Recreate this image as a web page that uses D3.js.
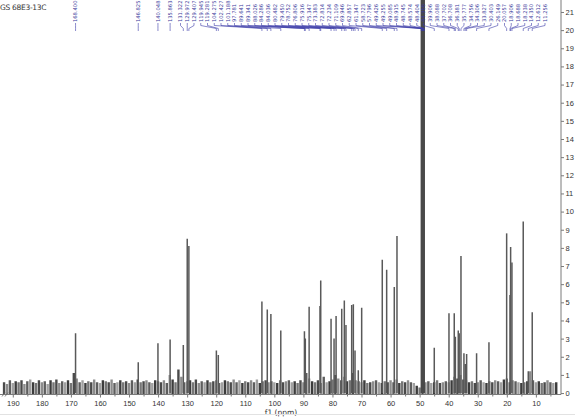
<!DOCTYPE html>
<html>
<head>
<meta charset="utf-8">
<script src="https://cdn.jsdelivr.net/npm/d3@7/dist/d3.min.js"></script>
<style>
    body { margin: 0; background: #fff; }
    svg { display: block; font-family: "DejaVu Sans", sans-serif; }
</style>
</head>
<body>
<div class="Spectrum"></div>
<script>
// peaks picked on the 13C spectrum (ppm / intensity)
const peakPpm = [168.400, 146.825, 140.048, 135.863, 131.322, 129.972, 129.407,
    119.945, 119.281, 104.275, 102.427, 101.188, 97.781,
    89.641, 89.341, 88.026, 84.286, 84.036, 80.482, 79.450, 78.752,
    76.806, 75.916, 75.347, 73.383, 72.814, 72.234, 71.109, 69.946,
    62.857, 61.347, 58.723, 57.796, 44.966,
    39.906, 38.088, 37.702, 36.708, 36.381, 35.777, 34.756, 34.306, 33.827, 30.403, 26.149,
    20.057, 18.906, 18.688, 18.238, 14.350, 12.612, 11.256];
const peakHeight = [3.3, 1.7, 2.75, 2.95, 2.65, 8.5, 8.1,
    2.35, 2.1, 5.05, 4.6, 4.35, 3.45,
    3.4, 3.0, 4.75, 4.8, 6.2, 4.1, 3.0, 4.25,
    4.65, 5.1, 3.75, 4.85, 4.9, 2.35, 1.25, 4.7,
    7.35, 6.8, 5.85, 8.65, 2.5,
    4.4, 4.4, 3.1, 3.45, 3.3, 7.55, 2.2, 1.6, 2.15, 2.2, 2.8,
    8.8, 5.4, 8.05, 7.2, 9.45, 1.2, 4.45];

// CD3OD septet, off scale
const solventPpm = [49.426, 49.255, 49.085, 48.915, 48.745, 48.574, 48.404];
const solventHeight = [26, 40, 60, 70, 60, 40, 26];

// baseline noise, one value per ppm from 193 down to 3
const noiseStart = 193;
const noise = [
    0.6, 0.5, 0.7, 0.55, 0.65, 0.6, 0.7, 0.5, 0.65, 0.75, 0.6, 0.55, 0.7, 0.6, 0.65, 0.5, 0.7, 0.6, 0.75, 0.55,
    0.65, 0.6, 0.7, 0.55, 1.1, 0.8, 0.6, 0.7, 0.55, 0.65, 0.6, 0.75, 0.6, 0.55, 0.7, 0.65, 0.6, 0.75, 0.55, 0.6,
    0.7, 0.6, 0.65, 0.55, 0.7, 0.6, 0.75, 0.6, 0.65, 0.7, 0.6, 0.55, 0.7, 0.65, 0.6, 0.7, 0.55, 1.0, 0.75, 0.6,
    1.3, 0.9, 0.6, 0.65, 0.7, 0.6, 0.75, 0.55, 0.65, 0.6, 0.7, 0.6, 0.65, 0.7, 0.55, 0.6, 0.7, 0.65, 0.6, 0.75,
    0.6, 0.7, 0.55, 0.65, 0.6, 0.7, 0.6, 0.75, 0.55, 0.65, 0.7, 0.6, 0.65, 0.6, 0.55, 0.7, 0.6, 0.65, 0.7, 0.6,
    0.65, 0.55, 0.7, 0.6, 1.1, 0.8, 0.65, 0.6, 0.7, 0.55, 0.9, 0.6, 0.65, 0.75, 1.0, 0.8, 0.7, 0.9, 0.65, 0.7,
    1.1, 0.7, 0.65, 0.6, 0.7, 0.55, 0.6, 0.65, 0.7, 0.6, 0.55, 0.65, 0.6, 0.7, 0.6, 0.75, 0.55, 0.65, 0.6, 0.7,
    0.6, 0.55, 0.4, 0.3, 0.2, 0.6, 0.65, 0.55, 0.6, 0.7, 0.55, 0.6, 0.65, 0.6, 0.7, 0.9, 0.8, 1.0, 0.75, 0.7,
    0.6, 0.65, 0.55, 0.6, 0.7, 0.6, 0.55, 0.65, 0.6, 0.7, 0.65, 0.6, 0.75, 0.8, 0.6, 0.7, 0.65, 0.6, 0.55, 0.6,
    0.65, 1.2, 0.7, 0.6, 0.65, 0.55, 0.6, 0.7, 0.6, 0.55, 0.6
];

const xTicks = d3.range(190, 9, -10);
const yTicks = d3.range(0, 22);
const title = 'GS 68E3-13C';
const xTitle = 'f1 (ppm)';

const width = 575, height = 418;
const plotRight = 561, plotBottom = 394.5;

const x = d3.scaleLinear().domain([194.4, 1.7]).range([0, 560]);
const y = d3.scaleLinear().domain([-0.08, 21.66]).range([plotBottom, 0]);

const svg = d3.select('.Spectrum')
    .append('svg')
    .attr('width', width)
    .attr('height', height);

svg.append('defs').append('clipPath').attr('id', 'plot')
    .append('rect').attr('x', 0).attr('y', 0).attr('width', plotRight).attr('height', plotBottom);

const plot = svg.append('g').attr('clip-path', 'url(#plot)');

// noise
const noiseShades = ['#4a4a4a', '#8c8c8c', '#5e5e5e', '#a0a0a0', '#3c3c3c', '#767676'];
plot.append('g').selectAll('line')
    .data(noise)
    .enter().append('line')
    .attr('x1', (d, i) => x(noiseStart - i))
    .attr('x2', (d, i) => x(noiseStart - i))
    .attr('y1', y(-0.05))
    .attr('y2', d => y(d))
    .attr('stroke', (d, i) => noiseShades[i % noiseShades.length])
    .attr('stroke-width', 2.4);

// peaks
plot.append('g').selectAll('line')
    .data(peakPpm)
    .enter().append('line')
    .attr('x1', d => x(d))
    .attr('x2', d => x(d))
    .attr('y1', y(0))
    .attr('y2', (d, i) => y(peakHeight[i]))
    .attr('stroke', '#595959')
    .attr('stroke-width', 1.5);

plot.append('g').selectAll('line')
    .data(solventPpm)
    .enter().append('line')
    .attr('x1', d => x(d))
    .attr('x2', d => x(d))
    .attr('y1', y(0))
    .attr('y2', (d, i) => y(solventHeight[i]))
    .attr('stroke', '#4a4a4a')
    .attr('stroke-width', 1.4);

// x axis
const xAxis = d3.axisBottom(x).tickValues(xTicks).tickSize(3).tickPadding(3).tickFormat(d3.format('d'));
const gx = svg.append('g')
    .attr('transform', 'translate(0,' + plotBottom + ')')
    .call(xAxis);
gx.select('.domain').attr('d', 'M0,0H' + plotRight);
svg.append('g')
    .attr('transform', 'translate(0,' + plotBottom + ')')
    .call(d3.axisBottom(x).tickValues(d3.range(185, 4, -10)).tickSize(2).tickFormat(''))
    .select('.domain').remove();

// y axis on the right
const yAxis = d3.axisRight(y).tickValues(yTicks).tickSize(3).tickPadding(1.5);
const gy = svg.append('g')
    .attr('transform', 'translate(' + plotRight + ',0)')
    .call(yAxis);
gy.select('.domain').attr('d', 'M0,0V' + plotBottom);

svg.selectAll('.domain, .tick line').attr('stroke', '#7a7a7a');
svg.selectAll('.tick text').attr('fill', '#333').style('font-size', '7.5px');

// axis break mark
svg.append('g').selectAll('line')
    .data([2, 5])
    .enter().append('line')
    .attr('x1', d => d).attr('x2', d => d + 3)
    .attr('y1', plotBottom + 2).attr('y2', plotBottom - 2)
    .attr('stroke', '#666').attr('stroke-width', 0.8);

svg.append('text')
    .attr('x', 281).attr('y', 415)
    .attr('text-anchor', 'middle')
    .attr('fill', '#333')
    .style('font-size', '7.5px')
    .text(xTitle);

svg.append('text')
    .attr('x', 0).attr('y', 10)
    .attr('fill', '#333')
    .style('font-size', '7.5px')
    .style('letter-spacing', '-0.3px')
    .text(title);

svg.append('line')
    .attr('x1', 0).attr('x2', width).attr('y1', 414.5).attr('y2', 414.5)
    .attr('stroke', '#e2e2e2');

// peak labels: spread apart, fanned back to their peaks
const labels = peakPpm.concat(solventPpm).sort((a, b) => b - a)
    .map(p => ({ppm: p, px: x(p)}));
const gap = 6.75, rightBound = 545;
labels.forEach((d, i) => {
    d.slot = i === 0 ? d.px : Math.max(d.px, labels[i - 1].slot + gap);
});
for (let i = labels.length - 1; i >= 0; i--) {
    const limit = i === labels.length - 1 ? rightBound : labels[i + 1].slot - gap;
    labels[i].slot = Math.min(labels[i].slot, limit);
}

const lab = svg.append('g');
lab.selectAll('path')
    .data(labels)
    .enter().append('path')
    .attr('d', d => 'M' + d.slot + ',23V25.5L' + d.px + ',28.5V31')
    .attr('fill', 'none')
    .attr('stroke', '#3b3ba8')
    .attr('stroke-width', 0.6);
lab.selectAll('text')
    .data(labels)
    .enter().append('text')
    .attr('transform', d => 'translate(' + (d.slot + 1.8) + ',22) rotate(-90)')
    .attr('fill', '#3b3b9c')
    .style('font-size', '5.2px')
    .text(d => d.ppm.toFixed(3));
</script>
</body>
</html>
